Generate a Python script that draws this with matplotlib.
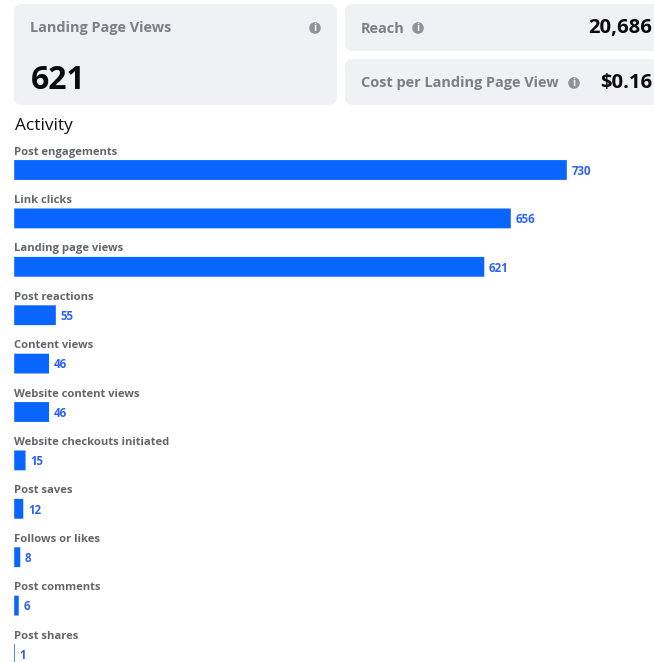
import matplotlib.pyplot as plt
from matplotlib.patches import Circle, FancyBboxPatch
import numpy as np

categories = ["Post engagements", "Link clicks", "Landing page views", "Post reactions",
              "Content views", "Website content views", "Website checkouts initiated",
              "Post saves", "Follows or likes", "Post comments", "Post shares"]
values = [730, 656, 621, 55, 46, 46, 15, 12, 8, 6, 1]

main_title = "Landing Page Views"
main_value = "621"
reach_title = "Reach"
reach_value = "20,686"
cost_title = "Cost per Landing Page View"
cost_value = "$0.16"

W, H = 654, 662
CARD = "#f0f1f5"
GREY = "#7b7f86"
BLUE = "#0866ff"

plt.rcParams["font.family"] = ["Open Sans", "DejaVu Sans"]

fig = plt.figure(figsize=(W / 100, H / 100), dpi=100)

# page layer in pixels, y going down
page = fig.add_axes([0, 0, 1, 1])
page.set_xlim(0, W)
page.set_ylim(H, 0)
page.axis("off")


def card(x0, y0, x1, y1):
    page.add_patch(FancyBboxPatch((x0 + 8, y0 + 8), x1 - x0 - 16, y1 - y0 - 16,
                                  boxstyle="round,pad=8,rounding_size=8",
                                  fc=CARD, ec="none"))


def info(x, y):
    page.add_patch(Circle((x, y), 5.8, fc="#8f939a", ec="none"))
    page.text(x, y + 0.3, "i", color=CARD, fontsize=7.5, fontweight="bold",
              ha="center", va="center")


card(14, 4, 337, 105)
card(345, 4, 670, 51)
card(345, 59, 670, 105)

page.text(30, 28, main_title, color=GREY, fontsize=10.45, fontweight="bold", va="center")
info(315, 28)
page.text(31, 80.5, main_value, color="#0a0a0a", fontsize=23, fontweight="bold", va="center")

page.text(361, 29, reach_title, color=GREY, fontsize=10.45, fontweight="bold", va="center")
info(418, 28)
page.text(652, 28.5, reach_value, color="#0a0a0a", fontsize=14.6, fontweight="bold",
          va="center", ha="right")

page.text(361, 83.5, cost_title, color=GREY, fontsize=10.45, fontweight="bold", va="center")
info(574, 83)
page.text(652, 83, cost_value, color="#0a0a0a", fontsize=14.6, fontweight="bold",
          va="center", ha="right")

page.text(15, 125.5, "Activity", color="#111111", fontsize=12.4, va="center")

# bars: 0.757 px per unit, 48.4 px between rows, first row centred at y=170
left, top = 14.2, 120
ax = fig.add_axes([left / W, 0, (W - left) / W, (H - top) / H])
ax.patch.set_alpha(0)
ax.set_xlim(0, (W - left) / 0.757)
ax.set_ylim((H - 170) / 48.4, (top - 170) / 48.4)
ax.axis("off")

y = np.arange(len(categories))
bars = ax.barh(y, values, height=0.41, color=BLUE)
for bar in bars:
    bar.set_snap(False)

for i, (name, value) in enumerate(zip(categories, values)):
    ax.text(0, i - 0.37, name, color="#62656b", fontsize=8.15, fontweight="bold",
            va="center", clip_on=False)
    ax.annotate(str(value), (value, i), xytext=(3.4, -1), textcoords="offset points",
                color="#2a62f5", fontsize=8.3, fontweight="bold", va="center")

fig.savefig("out.png", dpi=100)
